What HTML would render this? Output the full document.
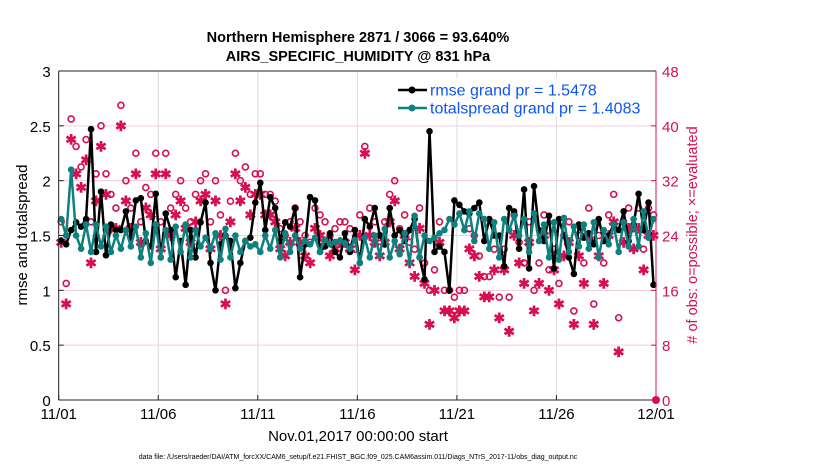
<!DOCTYPE html>
<html><head><meta charset="utf-8"><style>
body{margin:0;background:#fff;}
svg{display:block;font-family:"Liberation Sans",sans-serif;}
</style></head><body>
<svg id="chart" width="830" height="470" viewBox="0 0 830 470" xmlns="http://www.w3.org/2000/svg">
<text x="358" y="42" text-anchor="middle" font-size="14.5" font-weight="bold">Northern Hemisphere 2871 / 3066 = 93.640%</text>
<text x="358" y="61" text-anchor="middle" font-size="14.5" font-weight="bold">AIRS_SPECIFIC_HUMIDITY @ 831 hPa</text>
<g id="grid"></g>
<g id="marks"></g>
<g id="axes"></g>
<text transform="translate(27,235) rotate(-90)" text-anchor="middle" font-size="15">rmse and totalspread</text>
<text transform="translate(697,235) rotate(-90)" text-anchor="middle" font-size="14.5" fill="#d6104f"># of obs: o=possible; ×=evaluated</text>
<text x="358" y="441" text-anchor="middle" font-size="15">Nov.01,2017 00:00:00 start</text>
<text x="358" y="459" text-anchor="middle" font-size="7">data file: /Users/raeder/DAI/ATM_forcXX/CAM6_setup/f.e21.FHIST_BGC.f09_025.CAM6assim.011/Diags_NTrS_2017-11/obs_diag_output.nc</text>
<g>
<rect x="392" y="78" width="262" height="38" fill="#fff"/>
<line x1="398" y1="90" x2="427" y2="90" stroke="#000" stroke-width="2.5"/><circle cx="412" cy="90" r="3.5" fill="#000"/>
<text x="430" y="95.5" font-size="16" fill="#0d55f5">rmse grand pr = 1.5478</text>
<line x1="398" y1="108" x2="427" y2="108" stroke="#0f8080" stroke-width="2.5"/><circle cx="412" cy="108" r="3.5" fill="#0f8080"/>
<text x="430" y="113.5" font-size="16" fill="#0d55f5">totalspread grand pr = 1.4083</text>
</g>
</svg>
<script>
const xTickLabels=["11/01","11/06","11/11","11/16","11/21","11/26","12/01"];
const yLeftTicks=["0","0.5","1","1.5","2","2.5","3"];
const yRightTicks=["0","8","16","24","32","40","48"];
const rmse=[1.45,1.42,1.55,1.62,1.58,1.65,2.47,1.35,1.9,1.32,1.6,1.55,1.55,1.72,1.48,1.82,1.84,1.45,1.4,1.88,1.3,1.7,1.55,1.12,1.45,1.05,1.55,1.3,1.62,1.8,1.25,1.0,1.42,1.5,1.45,1.02,1.25,1.45,1.48,1.8,1.98,1.55,1.85,1.75,1.45,1.62,1.58,1.75,1.12,1.42,1.85,1.82,1.35,1.4,1.52,1.35,1.3,1.52,1.35,1.55,1.25,1.65,1.58,1.75,1.5,1.42,1.75,1.5,1.55,1.45,1.55,1.65,1.3,1.1,2.45,1.35,1.4,1.35,1.0,1.82,1.78,1.72,1.7,1.75,1.8,1.45,1.65,1.5,1.5,1.22,1.75,1.72,1.38,1.92,1.2,1.95,1.55,1.45,1.68,1.2,1.65,1.5,1.3,1.15,1.6,1.48,1.52,1.42,1.65,1.45,1.5,1.6,1.55,1.72,1.45,1.6,1.88,1.55,1.8,1.05];
const spread=[1.65,1.5,2.1,1.5,1.38,1.6,1.35,1.6,1.4,1.58,1.35,1.5,1.38,1.55,1.4,1.58,1.3,1.52,1.25,1.6,1.3,1.55,1.28,1.58,1.35,1.6,1.3,1.55,1.4,1.48,1.38,1.52,1.28,1.56,1.3,1.5,1.35,1.45,1.4,1.42,1.35,1.5,1.38,1.55,1.3,1.52,1.35,1.5,1.38,1.45,1.42,1.48,1.35,1.46,1.42,1.44,1.45,1.43,1.38,1.46,1.25,1.48,1.3,1.5,1.32,1.56,1.3,1.45,1.33,1.52,1.25,1.68,1.3,1.5,1.45,1.48,1.52,1.55,1.65,1.6,1.7,1.55,1.72,1.45,1.7,1.65,1.38,1.62,1.3,1.65,1.55,1.68,1.5,1.65,1.35,1.7,1.45,1.6,1.3,1.62,1.28,1.66,1.35,1.58,1.4,1.6,1.38,1.62,1.3,1.55,1.42,1.6,1.35,1.62,1.4,1.65,1.4,1.72,1.48,1.65];
const possible=[26,17,41,37,34,38,26,33,40,33,30,28,43,32,28,36,26,31,30,36,26,36,28,30,32,28,26,30,32,33,26,32,27,16,29,36,32,34,30,33,33,30,30,29,25,24,26,28,26,24,23,28,27,26,24,25,26,26,25,22,27,37,28,26,24,26,30,32,25,27,23,22,28,20,16,19,26,16,16,15,16,16,25,24,21,18,18,22,15,22,15,27,23,20,26,16,20,27,19,22,17,24,26,13,24,20,28,14,24,20,27,30,12,26,28,25,28,22,28,27];
const evaluated=[23,14,38,33,31,35,20,29,37,30,25,25,40,29,25,33,23,28,27,33,22,33,24,27,29,25,23,26,29,30,22,29,24,14,26,33,29,31,27,30,30,27,27,26,22,21,23,25,23,21,20,25,24,23,21,22,23,23,22,19,24,36,24,23,21,23,26,29,22,24,20,18,25,17,11,16,23,13,13,12,13,13,22,21,18,15,15,19,12,19,10,24,20,17,23,13,17,24,16,19,14,21,23,11,21,17,24,11,21,17,24,26,7,23,25,22,25,19,24,24];
const X0=58.7,X1=656,Y0=400,Y1=71,NS="http://www.w3.org/2000/svg";
const xScale=i=>X0+(i+0.5)*(X1-X0)/120;
const yL=v=>Y0-v/3*(Y0-Y1);
const yR=v=>Y0-v/48*(Y0-Y1);
function mk(tag,attrs,parent){const e=document.createElementNS(NS,tag);for(const k in attrs)e.setAttribute(k,attrs[k]);parent.appendChild(e);return e;}
const grid=document.getElementById('grid'),marks=document.getElementById('marks'),axes=document.getElementById('axes');
xTickLabels.forEach((t,i)=>{const x=X0+i*(X1-X0)/6;
 if(i>0&&i<6){const g=mk('line',{x1:x,x2:x,y1:Y1,y2:Y0,stroke:'#dcdcdc','stroke-width':1},grid);}
 const tk=mk('line',{x1:x,x2:x,y1:Y0,y2:Y0-5,stroke:'#222'},axes);
 const tx=mk('text',{x:x,y:Y0+19,'text-anchor':'middle','font-size':15},axes);tx.textContent=t;
 
 });
yLeftTicks.forEach((t,i)=>{const y=Y0-i*(Y0-Y1)/6;
 if(i>0&&i<6){const g=mk('line',{x1:X0,x2:X1,y1:y,y2:y,stroke:'#f6cadb','stroke-width':1},grid);}
 mk('line',{x1:X0,x2:X0+5,y1:y,y2:y,stroke:'#222'},axes);
 const tx=mk('text',{x:X0-8,y:y+6,'text-anchor':'end','font-size':15},axes);tx.textContent=t;
 
 
 mk('line',{x1:X1,x2:X1-5,y1:y,y2:y,stroke:'#d6104f'},axes);
 const tr=mk('text',{x:X1+6,y:y+6,'font-size':15,fill:'#d6104f'},axes);tr.textContent=yRightTicks[i];
 
 });
mk('line',{x1:X0,x2:X0,y1:Y1,y2:Y0,stroke:'#222'},axes);
mk('line',{x1:X0,x2:X1,y1:Y0,y2:Y0,stroke:'#222'},axes);
mk('line',{x1:X0,x2:X1,y1:Y1,y2:Y1,stroke:'#222'},axes);
mk('line',{x1:X1,x2:X1,y1:Y1,y2:Y0,stroke:'#d6104f'},axes);
const dotEnd=mk('circle',{cx:X1,cy:Y0,r:4,fill:'#d6104f'},axes);


possible.forEach((v,i)=>{const c=mk('circle',{cx:xScale(i),cy:yR(v),r:3,fill:'none',stroke:'#d6104f','stroke-width':1.6},marks);
 
 });
evaluated.forEach((v,i)=>{const t=mk('text',{x:xScale(i),y:yR(v)+5,'text-anchor':'middle','font-size':14,'font-weight':'bold',fill:'#d6104f'},marks);t.textContent='✱';
 
 });
function series(arr,color,name){
 const p=mk('polyline',{points:arr.map((v,i)=>xScale(i)+','+yL(v)).join(' '),fill:'none',stroke:color,'stroke-width':2.5,'stroke-linejoin':'round'},marks);
 
 
 arr.forEach((v,i)=>{const c=mk('circle',{cx:xScale(i),cy:yL(v),r:3.3,fill:color},marks);
  
  });
}
series(rmse,'#000','rmse');
series(spread,'#0f8080','totalspread');
</script>
</body></html>
